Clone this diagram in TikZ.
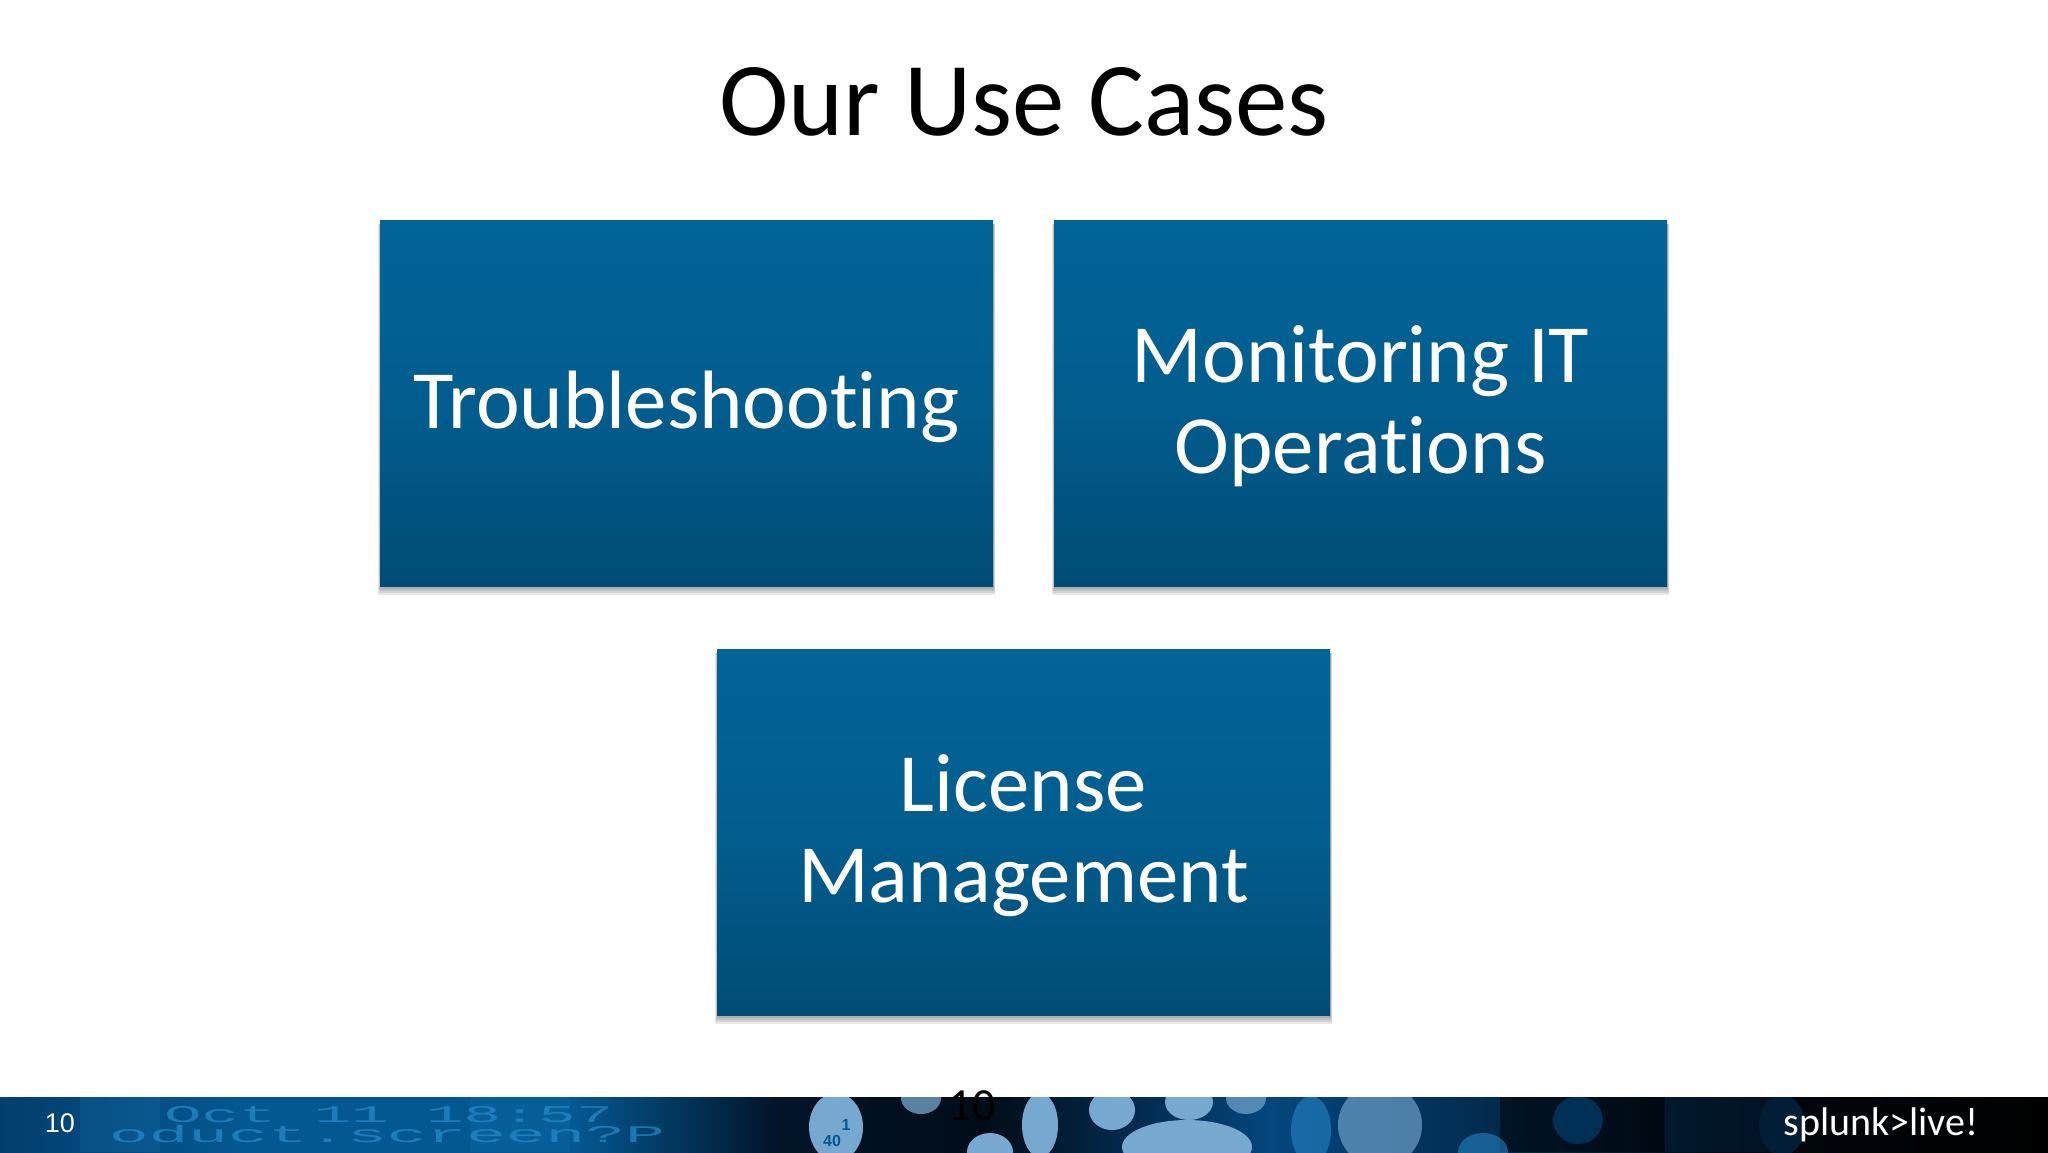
\documentclass[tikz,border=0pt]{standalone}
\usepackage{fontspec}
\setmainfont{Carlito}[Ligatures=NoCommon]
\newfontfamily\arialfont{Liberation Sans}
\newfontfamily\monofont{Liberation Mono}
\usetikzlibrary{shadings}
\newcommand{\lowered}[1]{\raisebox{-1.75pt}[\height][\depth]{#1}}
\definecolor{boxtop}{RGB}{3,100,152}
\definecolor{boxmid}{RGB}{2,93,142}
\definecolor{boxbot}{RGB}{1,76,118}
\definecolor{codeblue}{RGB}{40,140,205}
\definecolor{pale}{RGB}{118,168,208}
\definecolor{bandA}{RGB}{3,62,110}
\definecolor{bandB}{RGB}{4,88,146}
\definecolor{bandC}{RGB}{1,20,40}
\definecolor{bandD}{RGB}{1,12,24}
\definecolor{bandE}{RGB}{3,70,125}
\definecolor{bandF}{RGB}{2,30,55}
\definecolor{bandG}{RGB}{1,8,16}
\pgfdeclarehorizontalshading{bandshade}{100bp}{
 color(0bp)=(bandA);
 color(25bp)=(bandA);
 color(31bp)=(bandB);
 color(39bp)=(bandB);
 color(44bp)=(bandC);
 color(49bp)=(bandD);
 color(56bp)=(bandE);
 color(64bp)=(bandF);
 color(67bp)=(bandG);
 color(75bp)=(black);
 color(100bp)=(black)}
\tikzset{
 x=0.5pt,y=-0.5pt,
 usecase/.style={rectangle,minimum width=306.5pt,minimum height=183pt,align=center,inner sep=0pt,
  top color=boxtop,bottom color=boxbot,middle color=boxmid,text=white,font=\fontsize{41.4}{45.5}\selectfont},
 softshadow/.style={fill=black,fill opacity=0.09},
 blob/.style={fill=pale,draw=none},
 midblob/.style={fill=codeblue,fill opacity=.55,draw=none},
 codetext/.style={text=codeblue,font=\monofont\fontsize{12}{12}\selectfont,anchor=base west,inner sep=0pt,text opacity=0.7,xscale=2.6,transform shape}
}
\begin{document}
\begin{tikzpicture}
\useasboundingbox (0,0) rectangle (2048,1152);
\fill[white] (0,0) rectangle (2048,1152);
% footer band
\begin{scope}
\clip (0,1097) rectangle (2048,1152);
\shade[shading=bandshade] (0,1097) rectangle (2048,1152);
\fill[codeblue,fill opacity=.15] (80,1097) rectangle (160,1152);
\fill[codeblue,fill opacity=.12] (470,1097) rectangle (570,1152);
\fill[black,fill opacity=.5] (1500,1097) rectangle (1665,1152);
\fill[bandF,fill opacity=.6] (1665,1097) rectangle (1790,1152);
\fill[bandF] (1782,1125) ellipse (23 and 30);
\fill[bandE,fill opacity=.6] (1578,1120) ellipse (25 and 24);
\node[codetext] (codeA) at (163,1122) {Oct 11 18:57};
\node[codetext,xscale=1.06] (codeB) at (108,1142) {oduct.screen?P};
\fill[blob] (836,1127) ellipse (27 and 34);
\fill[blob,fill opacity=.75] (921,1098) ellipse (20 and 16);
\fill[blob] (990,1152) ellipse (23 and 19);
\fill[blob] (1040,1125) ellipse (18 and 32);
\fill[blob] (1112,1110) ellipse (23 and 20);
\fill[blob] (1187,1147) ellipse (65 and 27);
\fill[blob] (1189,1102) ellipse (24 and 18);
\fill[blob,fill opacity=.7] (1246,1098) ellipse (20 and 16);
\fill[midblob] (1311,1130) ellipse (20 and 34);
\fill[blob,fill opacity=.65] (1380,1125) ellipse (42 and 42);
\fill[midblob] (1483,1152) ellipse (25 and 19);
\node[inner sep=0pt,text=bandB,font=\arialfont\fontsize{8}{8}\selectfont\bfseries] (digitA) at (846,1125) {1};
\node[inner sep=0pt,text=bandB,font=\arialfont\fontsize{8}{8}\selectfont\bfseries] (digitB) at (832,1141) {40};
\end{scope}
% shadows
\foreach \a/\b in {380/220,1054/220,717/649}{
 \foreach \g in {1,2,3,4}{
  \fill[softshadow] (\a-\g/2,\b+4) rectangle (\a+613+\g/2,\b+366+2*\g+1);
 }
}
% boxes
\node[usecase] (trouble) at (686.5,403) {\lowered{Troubleshooting}};
\node[usecase] (monitor) at (1360.5,403) {\lowered{Monitoring IT}\\\lowered{Operations}};
\node[usecase] (license) at (1023.5,832) {\lowered{License}\\\lowered{Management}};
% title
\node[inner sep=0pt,font=\fontsize{52.4}{60}\selectfont] (title) at (1024,102) {Our Use Cases};
% footer texts
\node[inner sep=0pt,text=white,font=\arialfont\fontsize{13.5}{16}\selectfont] (numA) at (60,1123) {10};
\node[inner sep=0pt,text=black,font=\fontsize{23}{28}\selectfont] (numB) at (972,1106) {10};
\node[inner sep=0pt,text=white,font=\fontsize{20}{26}\selectfont] (logo) at (1881,1125) {splunk>live!};
\end{tikzpicture}
\end{document}
